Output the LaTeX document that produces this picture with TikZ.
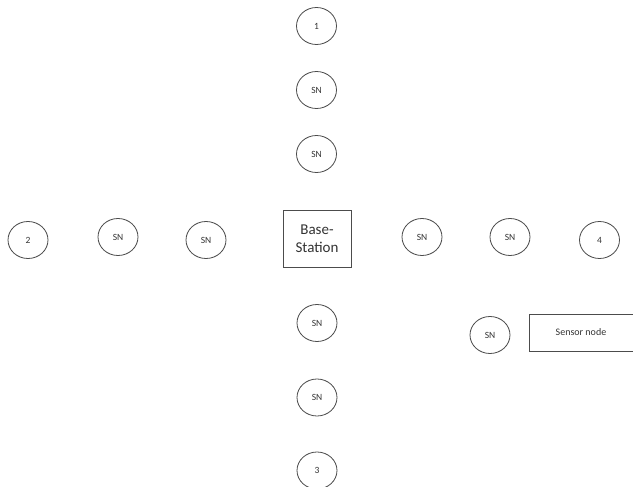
\documentclass[tikz,border=0pt]{standalone}
\usepackage{fontspec}
\setmainfont{Carlito}
\usetikzlibrary{shapes.geometric}
\begin{document}
\begin{tikzpicture}[x=1pt,y=-1pt,
  sn/.style={ellipse,draw=black!70,line width=0.8pt,minimum width=40pt,minimum height=37pt,inner sep=0pt,font=\fontsize{9.5}{11}\selectfont,text=black!80},
  bs/.style={rectangle,draw=black!70,line width=0.8pt,minimum width=68pt,minimum height=57pt,inner sep=0pt,align=center,font=\fontsize{15}{18}\selectfont,text=black!80},
  lg/.style={rectangle,draw=black!70,line width=0.8pt,minimum width=104pt,minimum height=37pt,inner sep=0pt,font=\fontsize{10}{12}\selectfont,text=black!80}]
\useasboundingbox (0,0) rectangle (633,487);
\node[sn] (n1) at (316.5,26) {1};
\node[sn] (u1) at (316.5,90) {SN};
\node[sn] (u2) at (316.5,154) {SN};
\node[bs] (bs) at (317,238.5) {Base-\\Station};
\node[sn] (n2) at (28,240) {2};
\node[sn] (l1) at (118,237) {SN};
\node[sn] (l2) at (206,240) {SN};
\node[sn] (r1) at (422,237) {SN};
\node[sn] (r2) at (510,237) {SN};
\node[sn] (n4) at (599.5,240) {4};
\node[sn] (d1) at (317,323) {SN};
\node[sn] (d2) at (317,397.5) {SN};
\node[sn] (n3) at (317,470.5) {3};
\node[sn] (lgc) at (490,335) {SN};
\node[lg] (lgb) at (581,332.5) {Sensor node};
\end{tikzpicture}
\end{document}
